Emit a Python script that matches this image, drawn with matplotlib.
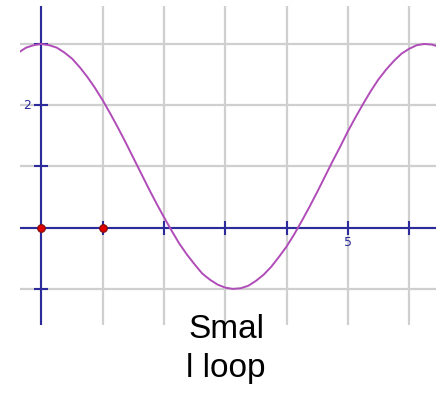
import matplotlib.pyplot as plt

# curve samples (x, y)
curve_x = [-0.5, -0.375, -0.25, -0.125, 0.0, 0.125, 0.25, 0.375, 0.5, 0.625,
           0.75, 0.875, 1.0, 1.125, 1.25, 1.375, 1.5, 1.625, 1.75, 1.875,
           2.0, 2.125, 2.25, 2.375, 2.5, 2.625, 2.75, 2.875, 3.0, 3.125,
           3.25, 3.375, 3.5, 3.625, 3.75, 3.875, 4.0, 4.125, 4.25, 4.375,
           4.5, 4.625, 4.75, 4.875, 5.0, 5.125, 5.25, 5.375, 5.5, 5.625,
           5.75, 5.875, 6.0, 6.125, 6.25, 6.375, 6.5]
curve_y = [2.76, 2.86, 2.94, 2.98, 3.00, 2.98, 2.94, 2.86, 2.76, 2.62,
           2.46, 2.28, 2.08, 1.86, 1.63, 1.39, 1.14, 0.89, 0.64, 0.40,
           0.17, -0.05, -0.26, -0.44, -0.60, -0.75, -0.85, -0.93, -0.98, -1.00,
           -0.99, -0.95, -0.87, -0.77, -0.64, -0.48, -0.31, -0.11, 0.11, 0.34,
           0.58, 0.83, 1.08, 1.32, 1.57, 1.80, 2.02, 2.23, 2.42, 2.58,
           2.72, 2.84, 2.92, 2.98, 3.00, 2.99, 2.95]

# red points on the x axis
point_x = [0, 1]
point_y = [0, 0]

x_ticks = [1, 2, 3, 4, 5, 6]
y_ticks = [-1, 1, 2, 3]
x_labels = {5: '5'}
y_labels = {2: '2'}

caption = 'Smal\nl loop'

W, H = 442, 393
fig = plt.figure(figsize=(W / 100, H / 100), dpi=100)
ax = fig.add_axes([20 / W, 1 - 325 / H, 416 / W, 319 / H])
ax.set_xlim(-0.35, 6.44)
ax.set_ylim(-1.59, 3.62)
for s in ax.spines.values():
    s.set_visible(False)
ax.set_xticks([])
ax.set_yticks([])

axis_col = '#2b2b9c'
grid_col = '#cfcfcf'

for gx in range(0, 7):
    ax.axvline(gx, color=grid_col, lw=1.6, zorder=1)
for gy in range(-1, 4):
    ax.axhline(gy, color=grid_col, lw=1.6, zorder=1)

ax.axhline(0, color=axis_col, lw=1.5, zorder=2)
ax.axvline(0, color=axis_col, lw=1.5, zorder=2)

ax.plot(x_ticks, [0] * len(x_ticks), ls='none', marker='|', ms=10,
        mew=1.5, color=axis_col, zorder=2)
ax.plot([0] * len(y_ticks), y_ticks, ls='none', marker='_', ms=10,
        mew=1.5, color=axis_col, zorder=2)

for v, t in x_labels.items():
    ax.text(v, -0.24, t, color=axis_col, fontsize=9, ha='center', va='center',
            family='DejaVu Sans')
for v, t in y_labels.items():
    ax.text(-0.17, v, t, color=axis_col, fontsize=9, ha='right', va='center',
            family='DejaVu Sans')

ax.plot(curve_x, curve_y, color='#b04cb8', lw=1.4, zorder=3)
ax.plot(point_x, point_y, ls='none', marker='o', ms=5.5, color='#e00000',
        mec='#7a1010', mew=0.8, zorder=4)

fig.text(226 / W, 1 - 349 / H, caption, ha='center', va='center',
         fontsize=24, family='Liberation Sans', linespacing=1.3)

fig.savefig('out.png', dpi=100)
